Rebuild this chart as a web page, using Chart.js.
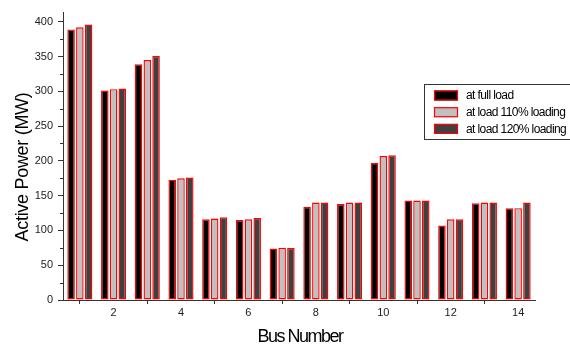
<!DOCTYPE html>
<html>
<head>
<meta charset="utf-8">
<script src="https://cdn.jsdelivr.net/npm/chart.js@4/dist/chart.umd.min.js"></script>
<style>
  html, body { margin: 0; padding: 0; background: #fff; }
  #wrap { width: 570px; height: 345px; }
</style>
</head>
<body>
<div id="wrap"><canvas id="busChart" width="570" height="345"></canvas></div>
<script>
// Bus numbers and active power (MW) for each loading case
const buses = [1, 2, 3, 4, 5, 6, 7, 8, 9, 10, 11, 12, 13, 14];
const fullLoad = [389, 301, 339, 173, 116, 115, 74, 134, 138, 197, 143, 107, 139, 132];
const load110 = [392, 303, 345, 175, 117, 116, 75, 140, 140, 207, 143, 116, 140, 132];
const load120 = [396, 304, 351, 176, 119, 118, 75, 140, 140, 208, 143, 116, 140, 140];
const seriesNames = ['at full load', 'at load 110% loading', 'at load 120% loading'];
const yTicks = [0, 50, 100, 150, 200, 250, 300, 350, 400];
const xTitle = 'Bus Number';
const yTitle = 'Active Power (MW)';

const fontFamily = '"Liberation Sans", Arial, sans-serif';

// Axis titles, drawn by hand so the tight letter spacing of the original can be matched
const axisTitles = {
    id: 'axisTitles',
    afterDraw(chart) {
        const ctx = chart.ctx;
        ctx.save();
        ctx.fillStyle = '#000';
        ctx.textAlign = 'center';
        ctx.textBaseline = 'alphabetic';
        ctx.font = '18px ' + fontFamily;
        ctx.letterSpacing = '-1.5px';
        ctx.fillText(xTitle, 300, 342);
        ctx.translate(28, 167);
        ctx.rotate(-Math.PI / 2);
        ctx.letterSpacing = '-0.3px';
        ctx.fillText(yTitle, 0, 0);
        ctx.restore();
    }
};

// Legend box drawn inside the plot, like the original figure
const boxLegend = {
    id: 'boxLegend',
    afterDraw(chart) {
        const ctx = chart.ctx;
        const x0 = 424, y0 = 84, w = 150, h = 55;
        ctx.save();
        ctx.fillStyle = '#fff';
        ctx.fillRect(x0, y0, w, h);
        ctx.strokeStyle = '#333';
        ctx.lineWidth = 1;
        ctx.strokeRect(x0 + 0.5, y0 + 0.5, w, h);
        ctx.font = '12px ' + fontFamily;
        ctx.letterSpacing = '-0.6px';
        ctx.textBaseline = 'middle';
        chart.data.datasets.forEach((ds, i) => {
            const cy = y0 + 11.5 + i * 16.7;
            ctx.fillStyle = ds.backgroundColor;
            ctx.fillRect(x0 + 10, cy - 5, 24, 10);
            ctx.strokeStyle = ds.borderColor;
            ctx.lineWidth = 1.2;
            ctx.strokeRect(x0 + 10.5, cy - 4.5, 23, 9);
            ctx.fillStyle = '#000';
            ctx.fillText(ds.label, x0 + 42, cy + 0.5);
        });
        ctx.restore();
    }
};

// Short minor ticks on the y axis every 25 MW
const minorTicks = {
    id: 'minorTicks',
    afterDraw(chart) {
        const ctx = chart.ctx;
        const y = chart.scales.y;
        ctx.save();
        ctx.strokeStyle = '#333';
        ctx.lineWidth = 1;
        for (let v = 25; v < 400; v += 50) {
            const py = Math.round(y.getPixelForValue(v)) + 0.5;
            ctx.beginPath();
            ctx.moveTo(y.right - 3, py);
            ctx.lineTo(y.right, py);
            ctx.stroke();
        }
        ctx.restore();
    }
};

const ctx = document.getElementById('busChart').getContext('2d');
const busChart = new Chart(ctx, {
    type: 'bar',
    data: {
        labels: buses,
        datasets: [
            { label: seriesNames[0], data: fullLoad, backgroundColor: '#000000' },
            { label: seriesNames[1], data: load110, backgroundColor: '#c0c0c0' },
            { label: seriesNames[2], data: load120, backgroundColor: '#404040' },
        ].map(ds => Object.assign(ds, {
            borderColor: '#ff0000',
            borderWidth: 1.4,
            borderSkipped: false,
            categoryPercentage: 0.78,
            barPercentage: 0.86,
        })),
    },
    options: {
        responsive: false,
        animation: false,
        layout: { padding: { top: 12, right: 35, left: 0, bottom: 0 } },
        plugins: {
            legend: { display: false },
            tooltip: { enabled: false },
        },
        scales: {
            x: {
                grid: {
                    display: true,
                    drawOnChartArea: false,
                    offset: false,
                    tickLength: 4,
                    tickColor: c => (c.index % 2 === 0 ? '#333' : 'rgba(0,0,0,0)'),
                },
                border: { display: true, color: '#333', width: 1 },
                ticks: {
                    color: '#222',
                    font: { family: fontFamily, size: 11 },
                    padding: 2,
                    maxRotation: 0,
                    autoSkip: false,
                    callback: (val, i) => (buses[i] % 2 === 0 ? String(buses[i]) : ''),
                },
                afterFit: s => { s.height = 45; },
            },
            y: {
                min: 0,
                max: 414,
                afterBuildTicks: s => { s.ticks = yTicks.map(v => ({ value: v })); },
                grid: {
                    display: true,
                    drawOnChartArea: false,
                    tickLength: 5,
                    tickColor: '#333',
                },
                border: { display: true, color: '#333', width: 1 },
                ticks: {
                    color: '#222',
                    font: { family: fontFamily, size: 11 },
                    padding: 5,
                },
                afterFit: s => { s.width = 63; },
            },
        },
    },
    plugins: [minorTicks, boxLegend, axisTitles],
});
</script>
</body>
</html>
